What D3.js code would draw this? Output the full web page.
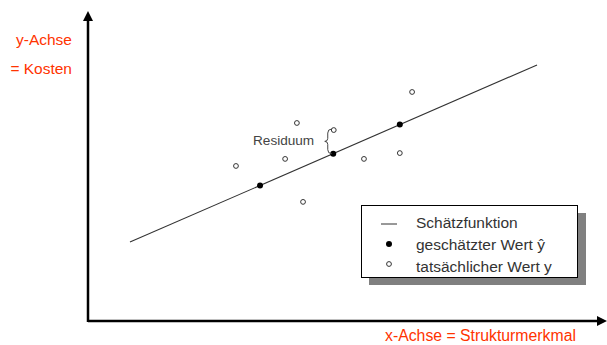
<!DOCTYPE html>
<html><head><meta charset="utf-8">
<script src="https://cdn.jsdelivr.net/npm/d3@7"></script>
<style>body{margin:0;background:#fff}svg{display:block}text{font-family:"Liberation Sans",Arial,sans-serif}</style>
</head><body><svg id="c" width="607" height="345"></svg>
<script>
// Data (abstract units, x: 0..100, y: 0..100)
const lineX = [8.2, 87.7];
const lineY = [25.7, 83.4];
const estX = [33.6, 47.9, 60.9];
const estY = [44.1, 54.5, 64.0];
const actX = [28.9, 40.8, 38.5, 48.0, 42.0, 53.9, 60.9, 63.3];
const actY = [50.5, 64.5, 52.8, 62.2, 38.8, 52.8, 54.7, 74.6];
const residIndex = 3; // actual point paired with estimate 1
const legendLabels = ["Schätzfunktion", "geschätzter Wert ŷ", "tatsächlicher Wert y"];
const yAxisLabel = ["y-Achse", "= Kosten"];
const xAxisLabel = "x-Achse = Strukturmerkmal";

const svg = d3.select("#c");
const x = d3.scaleLinear().domain([0, 100]).range([88, 600]);
const y = d3.scaleLinear().domain([0, 100]).range([321, 14]);
const red = "#ff3300";

// axes
svg.append("line").attr("x1", x(0)).attr("x2", 600).attr("y1", y(0)).attr("y2", y(0))
  .attr("stroke", "#000").attr("stroke-width", 2.5);
svg.append("line").attr("x1", x(0)).attr("x2", x(0)).attr("y1", y(0)+1).attr("y2", 20)
  .attr("stroke", "#000").attr("stroke-width", 2.5);
svg.append("path").attr("d", `M${x(0)},11 L${x(0)-5},21 L${x(0)+5},21 Z`).attr("fill", "#000");
svg.append("path").attr("d", `M607,${y(0)} L597,${y(0)-5} L597,${y(0)+5} Z`).attr("fill", "#000");

// axis labels
svg.selectAll(".yl").data(yAxisLabel).join("text")
  .attr("x", 72).attr("y", (d,i) => 45 + i*29).attr("text-anchor", "end")
  .attr("font-size", 15.5).attr("fill", red).text(d => d);
svg.append("text").attr("x", 385).attr("y", 341).attr("font-size", 15.8)
  .attr("fill", red).text(xAxisLabel);

// regression line
svg.append("line").attr("x1", x(lineX[0])).attr("y1", y(lineY[0]))
  .attr("x2", x(lineX[1])).attr("y2", y(lineY[1])).attr("stroke", "#333").attr("stroke-width", 1.1);

// actual points
svg.selectAll(".act").data(actX).join("circle")
  .attr("cx", d => x(d)).attr("cy", (d,i) => y(actY[i])).attr("r", 2.4)
  .attr("fill", "#fff").attr("stroke", "#333").attr("stroke-width", 1);
// estimated points
svg.selectAll(".est").data(estX).join("circle")
  .attr("cx", d => x(d)).attr("cy", (d,i) => y(estY[i])).attr("r", 3)
  .attr("fill", "#000");

// brace for residual
const bx = x(actX[residIndex]) - 6, bTop = y(actY[residIndex]) - 1, bBot = y(estY[1]);
const bMid = (bTop + bBot) / 2;
svg.append("path").attr("d",
  `M${bx+4},${bTop} Q${bx},${bTop} ${bx},${bTop+4} L${bx},${bMid-3} Q${bx},${bMid} ${bx-3},${bMid} Q${bx},${bMid} ${bx},${bMid+3} L${bx},${bBot-4} Q${bx},${bBot} ${bx+4},${bBot}`)
  .attr("fill", "none").attr("stroke", "#444").attr("stroke-width", 1);
svg.append("text").attr("x", 253).attr("y", 145).attr("font-size", 13.6).attr("fill", "#444").text("Residuum");

// legend
const lg = svg.append("g");
lg.append("rect").attr("x", 369).attr("y", 213).attr("width", 217).attr("height", 72).attr("fill", "#808080");
lg.append("rect").attr("x", 361.5).attr("y", 205.5).attr("width", 216).attr("height", 72)
  .attr("fill", "#fff").attr("stroke", "#000").attr("stroke-width", 1);
const rows = lg.selectAll(".row").data(legendLabels).join("g").attr("transform", (d,i) => `translate(0,${i*22})`);
rows.append("text").attr("x", 416).attr("y", 228).attr("font-size", 15.5).attr("fill", "#333").text(d => d);
lg.append("line").attr("x1", 381).attr("x2", 397).attr("y1", 224).attr("y2", 224).attr("stroke", "#333");
lg.append("circle").attr("cx", 389).attr("cy", 244).attr("r", 3).attr("fill", "#000");
lg.append("circle").attr("cx", 389).attr("cy", 264).attr("r", 2.4).attr("fill", "#fff").attr("stroke", "#333");
</script></body></html>
